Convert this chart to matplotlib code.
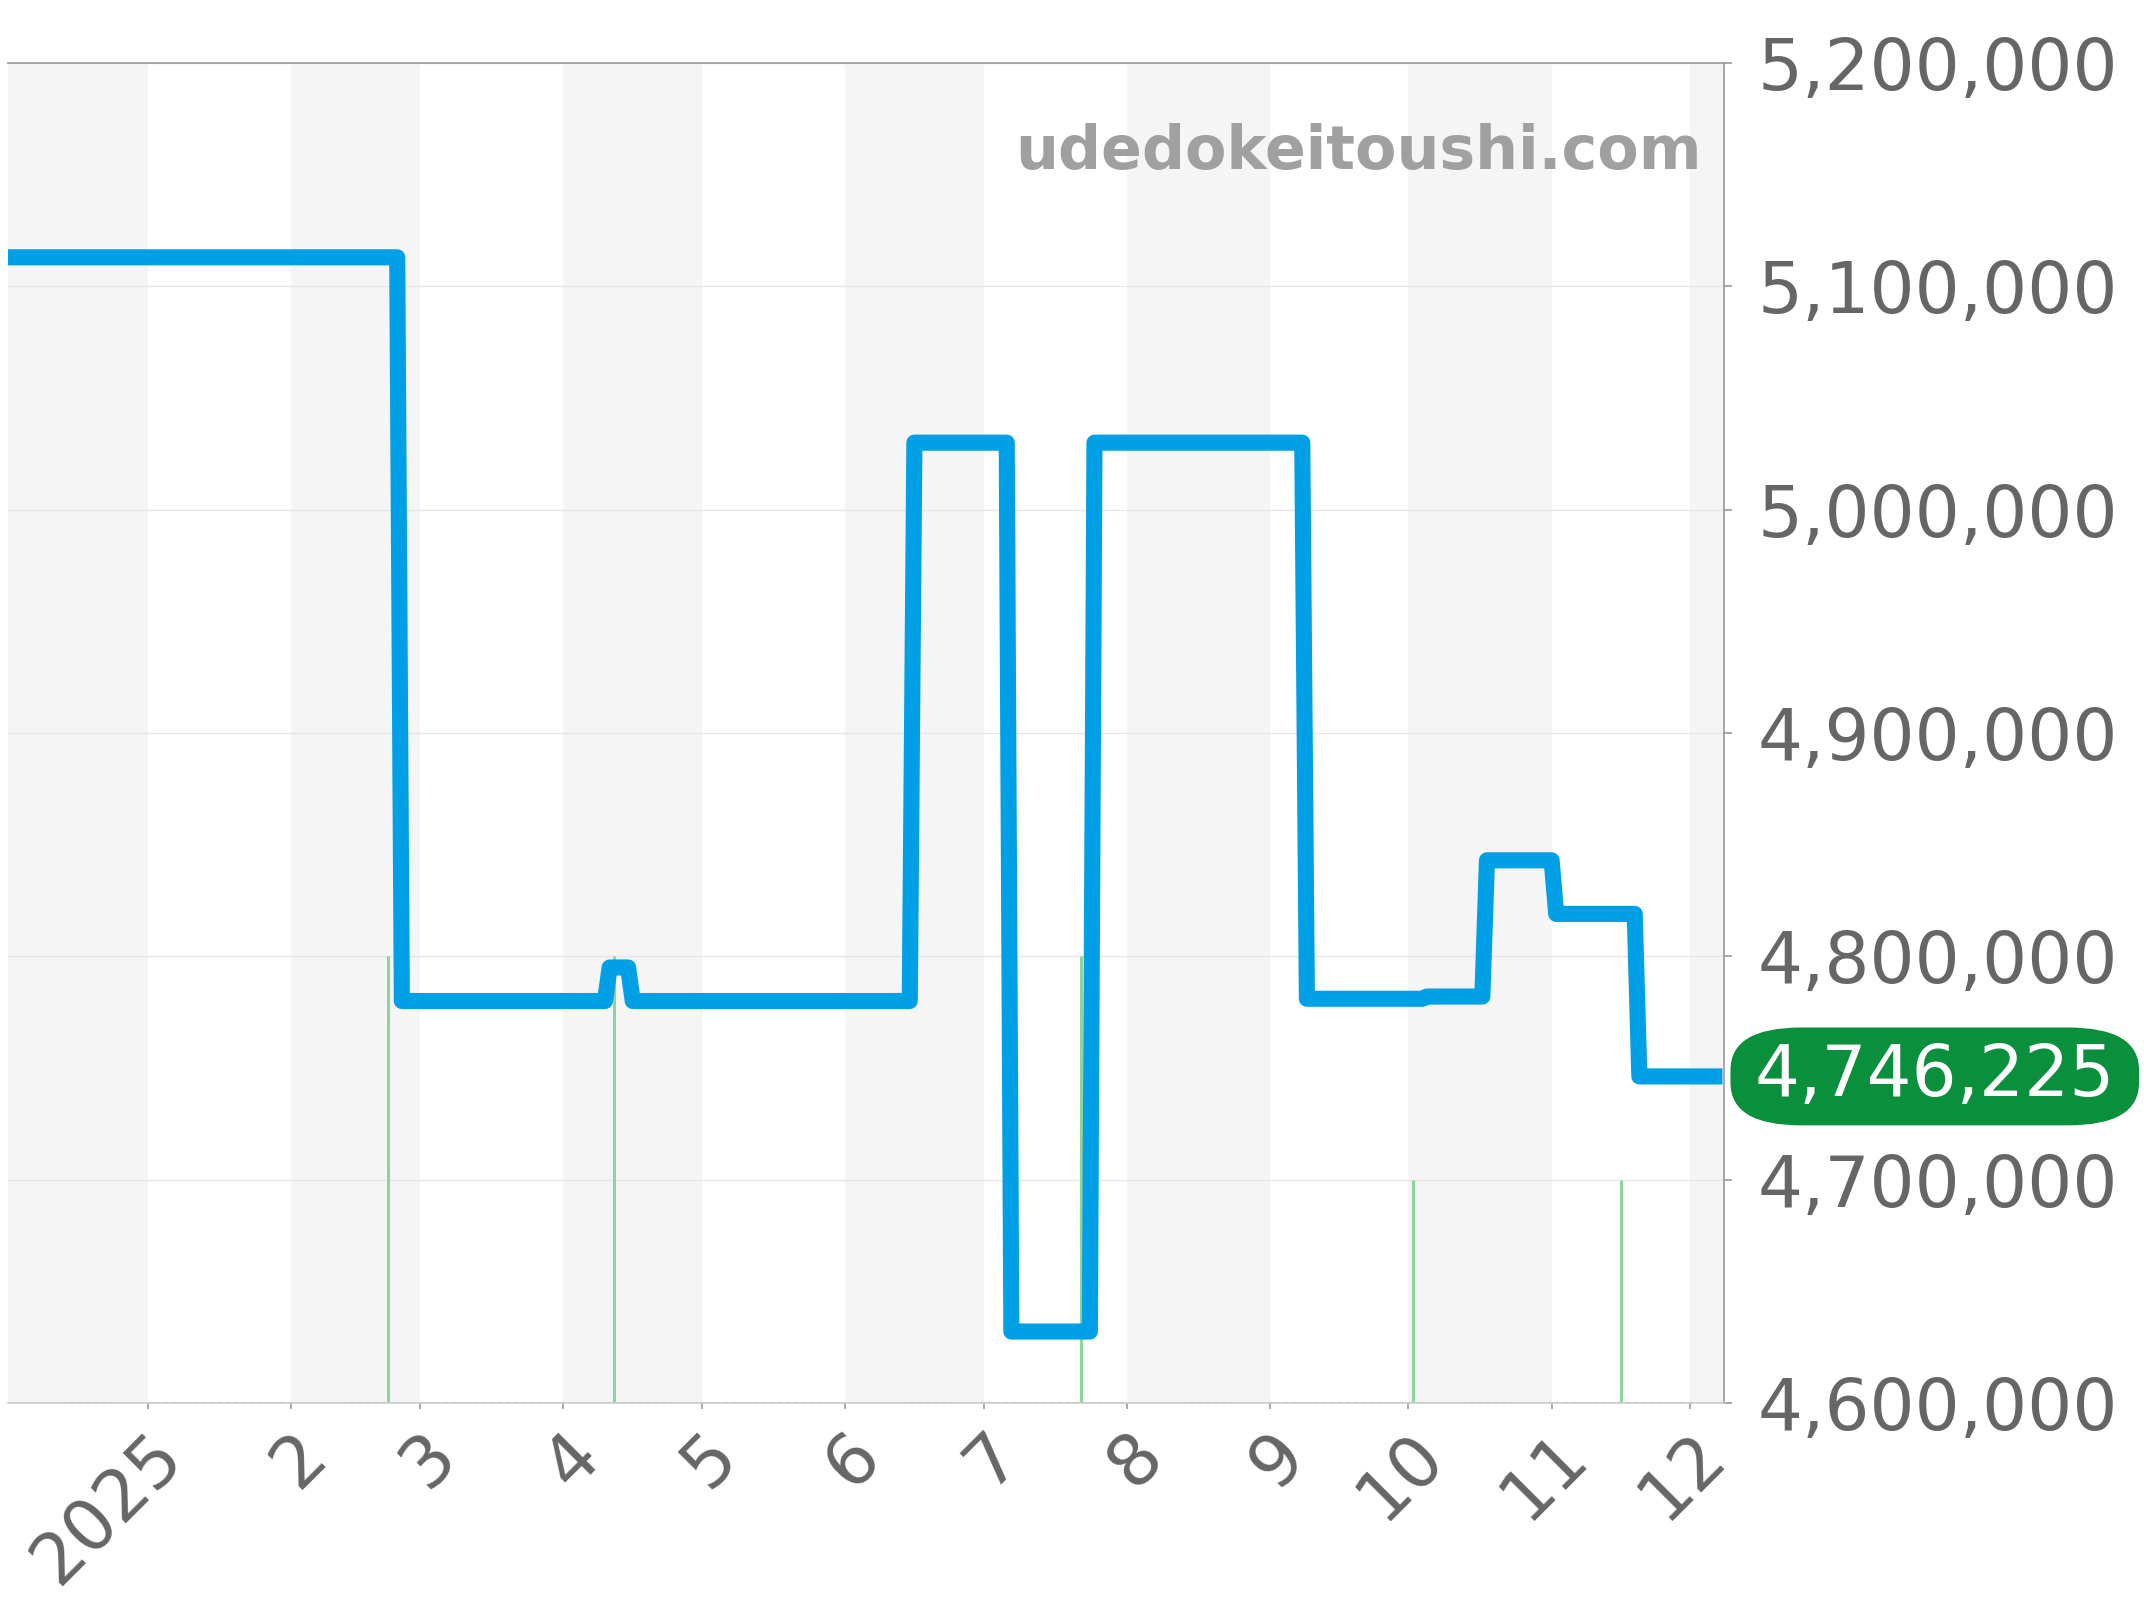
import numpy as np
import pandas as pd
import matplotlib
matplotlib.use("Agg")
import matplotlib.pyplot as plt
from matplotlib.ticker import FuncFormatter

# price history (step-like, one point on each side of every change)
dates = ['2024-12-01', '2025-02-24', '2025-02-25', '2025-04-10', '2025-04-11',
         '2025-04-15', '2025-04-16', '2025-06-15', '2025-06-16', '2025-07-06',
         '2025-07-07', '2025-07-24', '2025-07-25', '2025-09-08', '2025-09-09',
         '2025-10-04', '2025-10-05', '2025-10-17', '2025-10-18', '2025-11-01',
         '2025-11-02', '2025-11-19', '2025-11-20', '2025-12-08']
prices = [5113000, 5113000, 4780000, 4780000, 4795000,
          4795000, 4780000, 4780000, 5030000, 5030000,
          4632000, 4632000, 5030000, 5030000, 4781000,
          4781000, 4782000, 4782000, 4843000, 4843000,
          4819000, 4819000, 4746225, 4746225]

# green marker bars (counts)
bar_dates = ['2025-02-22', '2025-04-12', '2025-07-22', '2025-10-02', '2025-11-16']
bar_counts = [2, 2, 2, 1, 1]

month_ticks = pd.date_range('2025-01-01', '2025-12-01', freq='MS')
month_labels = ['2025', '2', '3', '4', '5', '6', '7', '8', '9', '10', '11', '12']
last_label = '4,746,225'

x = pd.to_datetime(dates)
x_start = pd.Timestamp('2024-12-01 17:00')
x_end = pd.Timestamp('2025-12-08 08:00')

fig = plt.figure(figsize=(10.72, 8), dpi=200)
ax = fig.add_axes([8 / 2144, 197 / 1600, 1716 / 2144, 1340 / 1600])

# alternating month shading (even months grey)
for m0 in pd.date_range('2024-12-01', '2025-12-01', freq='MS'):
    if m0.month % 2 == 0:
        ax.axvspan(m0, m0 + pd.offsets.MonthBegin(1), color='#f5f5f5', lw=0, zorder=0)

ax.set_ylim(4600000, 5200000)
ax.set_xlim(x_start, x_end)
ax.set_yticks(np.arange(4600000, 5200001, 100000))
ax.yaxis.set_major_formatter(FuncFormatter(lambda v, p: f'{int(v):,}'))
ax.grid(axis='y', color='#e6e6e6', lw=0.5, zorder=1)
ax.yaxis.tick_right()

ax.set_xticks(month_ticks)
ax.set_xticklabels(month_labels, rotation=45, ha='right', va='top', rotation_mode='anchor')

ax.tick_params(axis='y', labelsize=25.5, colors='#999999', labelcolor='#666666',
               length=3, width=0.6, pad=9)
ax.tick_params(axis='x', labelsize=25.5, colors='#999999', labelcolor='#666666',
               length=2.2, width=0.6, pad=4)

for side in ['top', 'right']:
    ax.spines[side].set_color('#999999')
    ax.spines[side].set_linewidth(0.6)
ax.spines['left'].set_visible(False)
ax.spines['bottom'].set_color('#cccccc')
ax.spines['bottom'].set_linewidth(0.6)

# green bars, heights in axes fraction (0..6 count scale)
trans = ax.get_xaxis_transform()
ax.vlines(pd.to_datetime(bar_dates), 0, np.array(bar_counts) / 6, transform=trans,
          colors='#8fd49a', lw=1.1, zorder=2)
ax.axhline(4600000, color='#a6dcae', lw=0.8, ls=(0, (2, 1.5)), zorder=2)

ax.plot(x, prices, color='#00a0e6', lw=5.8, solid_joinstyle='round',
        solid_capstyle='butt', zorder=3)

ax.text(0.987, 0.933, 'udedokeitoushi.com', transform=ax.transAxes, ha='right',
        va='center', fontsize=21.7, fontweight='bold', color='#a0a0a0', zorder=4)

ax.annotate(last_label, xy=(1, prices[-1]), xycoords=('axes fraction', 'data'),
            xytext=(11, 0), textcoords='offset points', ha='left', va='center',
            fontsize=25.5, color='white', annotation_clip=False,
            bbox=dict(boxstyle='round,pad=0.34,rounding_size=1.0', fc='#0a8f3c',
                      ec='none', mutation_aspect=0.6))

fig.savefig('out.png', dpi=200)
